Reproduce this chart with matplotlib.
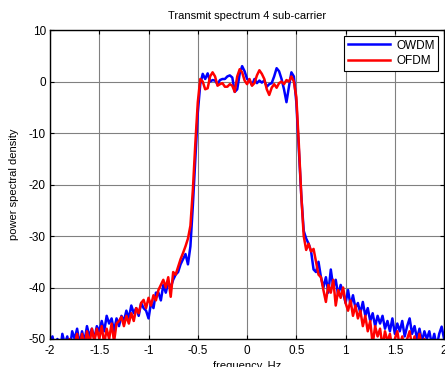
import numpy as np
import matplotlib.pyplot as plt

plt.rcParams['font.family'] = ['Liberation Sans', 'DejaVu Sans']
plt.rcParams['axes.unicode_minus'] = False

owdm_psd = [
    -51, -49.5, -52, -50, -53, -49, -51, -49.5, -52, -48.5,        # -2.0 .. -1.775
    -50, -48, -51, -48.5, -50.5, -47.5, -49.5, -48, -50, -47.5,    # -1.75 .. -1.525
    -48.5, -46.5, -48.5, -45.5, -47, -46, -48.5, -46, -47.5, -45.5,  # -1.5 .. -1.275
    -46.5, -44.5, -46, -43.5, -45, -44, -45.5, -43, -44, -44.5,    # -1.25 .. -1.025
    -46, -43, -44, -41, -41, -42.5, -39.5, -41, -39, -40,          # -1.0 .. -0.775
    -38.5, -37.5, -37, -35.5, -34.5, -33.5, -35.5, -32, -24, -15,  # -0.75 .. -0.525
    -6, -0.5, 1.5, 0.5, 1.6, 0, 0.3, 0.2, -0.5, 0.3,               # -0.5 .. -0.275
    0.5, 0.5, 1.0, 1.2, 0.8, -2.0, -1.5, 1.5, 3.0, 2.0,            # -0.25 .. -0.025
    0.5, 0.2, -0.7, 0.5, -0.3, 0.2, -0.2, 0.2, -1.0, -0.5,         # 0.0 .. 0.225
    -0.3, 1.0, 2.6, 2.0, 0.5, -1.5, -4.0, -1.0, 1.8, 1.0,          # 0.25 .. 0.475
    -4, -13, -22, -29, -30.5, -31.5, -33, -36.5, -37, -35,         # 0.5 .. 0.725
    -38, -40, -38, -41, -36.5, -40, -38.5, -41.5, -39.5, -41,      # 0.75 .. 0.975
    -43, -40.5, -43.5, -41.5, -44, -43, -45, -42.8, -45.5, -44,    # 1.0 .. 1.225
    -46.5, -45, -47.5, -45.5, -47, -45.5, -48, -46.5, -48.5, -46,  # 1.25 .. 1.475
    -49, -47, -48.5, -46.5, -49.5, -47.5, -46, -49, -47.5, -50,    # 1.5 .. 1.725
    -48, -50.5, -48.5, -50, -48.5, -51, -49, -51.5, -49, -47.6,    # 1.75 .. 1.975
    -50,                                                           # 2.0
]

ofdm_psd = [
    -53, -55, -52, -54, -51, -53, -50.5, -52, -50, -53,
    -51, -49, -52, -49, -51.5, -48.5, -51, -48, -50.5, -48,
    -50, -47.5, -51, -48, -50, -47, -50.5, -47, -46.5, -45.7,
    -47.5, -45.5, -47, -45, -46.5, -44, -45, -43, -42.4, -44,
    -42, -43.5, -41.5, -42.5, -40.5, -39.5, -38.5, -40, -38, -41.8,
    -37, -37.5, -36, -34.5, -33.3, -32, -30.5, -28, -21, -12,
    -4, 0.5, 0, -1.5, -1.3, 1.0, 1.8, 1.0, -0.8, -0.5,
    -0.3, -1.0, -1.0, -0.5, -0.8, -2.0, 1.0, 2.4, 1.8, 0.2,
    -0.5, 0.5, -0.8, -0.3, 1.2, 2.2, 1.5, 0.5, -1.5, -2.6,
    -1.2, -0.5, -1.2, -0.3, 0, -0.5, 0.3, 0, 1.0, 0,
    -3, -12, -22, -30, -32.7, -31.5, -33, -32.5, -35, -37.5,
    -38, -40.5, -42.8, -39.5, -41, -38.5, -43.5, -40.5, -42, -40,
    -43, -44.5, -42.5, -45.5, -43.5, -46, -44.5, -47.5, -45.5, -48.5,
    -46.5, -51, -47.5, -49.5, -48, -51.5, -48.5, -50.5, -49, -52,
    -50, -48.5, -51.5, -49.5, -52, -50, -48.5, -51.5, -49.5, -52,
    -49, -51.5, -50, -53, -50.5, -52, -50.5, -53, -51, -52.5,
    -51,
]

freq_owdm = np.linspace(-2, 2, len(owdm_psd))
freq_ofdm = np.linspace(-2, 2, len(ofdm_psd))

fig = plt.figure(figsize=(4.45, 3.67), dpi=100)
ax = fig.add_axes([0.1124, 0.0763, 0.8856, 0.8417])

ax.plot(freq_owdm, owdm_psd, color='#0000ff', lw=1.8, label='OWDM')
ax.plot(freq_ofdm, ofdm_psd, color='#ff0000', lw=1.8, label='OFDM')

ax.set_xlim(-2, 2)
ax.set_ylim(-50, 10)
ax.set_xticks([-2, -1.5, -1, -0.5, 0, 0.5, 1, 1.5, 2])
ax.set_xticklabels(['-2', '-1.5', '-1', '-0.5', '0', '0.5', '1', '1.5', '2'])
ax.set_yticks([-50, -40, -30, -20, -10, 0, 10])
ax.grid(True, color='#808080', lw=0.8)
ax.tick_params(direction='in', length=3, labelsize=8.5, top=True, right=True)
ax.tick_params(axis='x', pad=4)
ax.tick_params(axis='y', pad=3)
for s in ax.spines.values():
    s.set_linewidth(1.0)

ax.set_title('Transmit spectrum 4 sub-carrier', fontsize=8, pad=8)
ax.set_xlabel('frequency, Hz', fontsize=8, labelpad=3)
ax.set_ylabel('power spectral density', fontsize=8, labelpad=7)

leg = ax.legend(loc='upper right', fontsize=8.5, handlelength=3.6, fancybox=False,
                edgecolor='black', framealpha=1, borderaxespad=0.5,
                labelspacing=0.3, handletextpad=0.5, borderpad=0.3)
leg.get_frame().set_linewidth(0.8)

fig.savefig('out.png', dpi=100)
